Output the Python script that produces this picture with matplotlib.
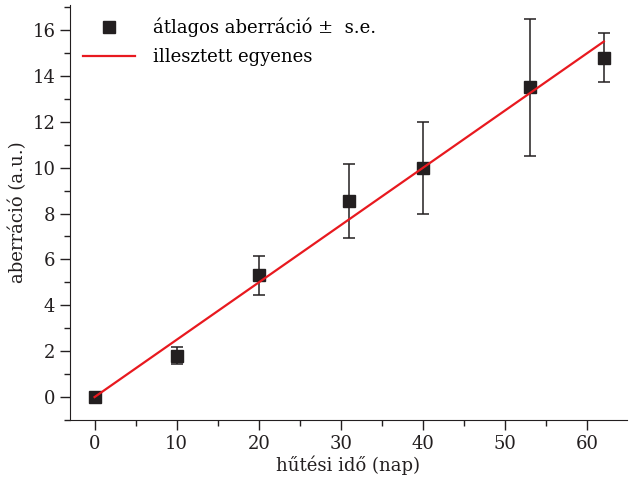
import matplotlib
matplotlib.use('Agg')
import matplotlib.pyplot as plt
from matplotlib.ticker import MultipleLocator

# adatok
ido = [0, 10, 20, 31, 40, 53, 62]
aberracio = [0.0, 1.8, 5.3, 8.55, 10.0, 13.5, 14.8]
hiba = [0.0, 0.38, 0.85, 1.6, 2.0, 3.0, 1.05]
fit_x = [0, 62]
fit_y = [0.0, 15.5]

plt.rcParams['font.family'] = ['DejaVu Serif']
plt.rcParams['font.size'] = 13

fig = plt.figure(figsize=(6.3, 4.8), dpi=100)
ax = fig.add_axes([0.111, 0.125, 0.884, 0.865])

ax.errorbar(ido, aberracio, yerr=hiba, fmt='none', ecolor='#231f20',
            elinewidth=1.1, capsize=4, capthick=1.1, zorder=2)
ax.plot(ido, aberracio, 's', color='#231f20', ms=9,
        label='átlagos aberráció ±  s.e.', zorder=2)
ax.plot(fit_x, fit_y, color='#e8191f', lw=1.6, label='illesztett egyenes', zorder=3)

ax.set_xlim(-3, 64.8)
ax.set_ylim(-1, 17.1)
ax.xaxis.set_major_locator(MultipleLocator(10))
ax.xaxis.set_minor_locator(MultipleLocator(5))
ax.yaxis.set_major_locator(MultipleLocator(2))
ax.yaxis.set_minor_locator(MultipleLocator(1))
ax.tick_params(which='major', length=7, width=1, color='#231f20', labelcolor='#231f20')
ax.tick_params(which='minor', length=4, width=1, color='#231f20')
for s in ['top', 'right']:
    ax.spines[s].set_visible(False)
for s in ['left', 'bottom']:
    ax.spines[s].set_color('#231f20')

ax.set_xlabel('hűtési idő (nap)', color='#231f20', labelpad=2)
ax.set_ylabel('aberráció (a.u.)', color='#231f20', labelpad=4)

ax.legend(loc='upper left', frameon=False, fontsize=13,
          handlelength=2.9, handletextpad=1.0, borderaxespad=0.3,
          labelspacing=0.62, bbox_to_anchor=(0.0, 1.0))

fig.savefig('out.png', dpi=100)
